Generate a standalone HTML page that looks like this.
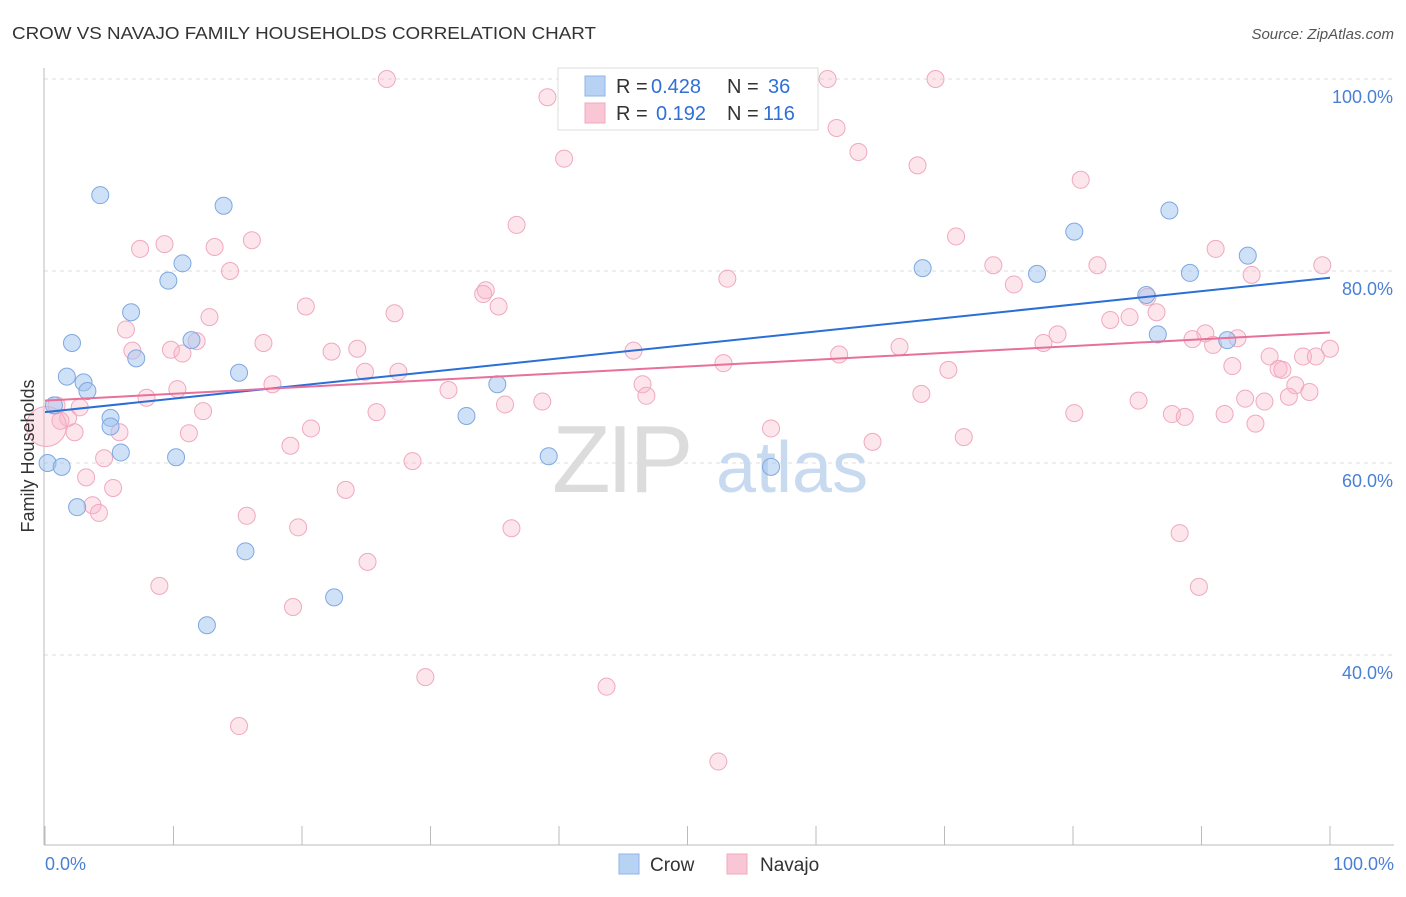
<!DOCTYPE html>
<html><head><meta charset="utf-8"><style>
body{margin:0;background:#fff;font-family:"Liberation Sans",sans-serif;}
svg text{font-family:"Liberation Sans",sans-serif;}
</style></head><body>
<svg id="chart" width="1406" height="892" xmlns="http://www.w3.org/2000/svg">
<text x="12" y="39" font-size="17.5" fill="#333" textLength="584" lengthAdjust="spacingAndGlyphs">CROW VS NAVAJO FAMILY HOUSEHOLDS CORRELATION CHART</text>
<text x="1394" y="39" font-size="15" fill="#555" text-anchor="end" font-style="italic">Source: ZipAtlas.com</text>
<g id="grid"></g>
<g>
<text x="552" y="492" font-size="96" fill="#dcdcdc" font-family="Liberation Serif" letter-spacing="-4">ZIP</text>
<text x="716" y="492" font-size="72" fill="#c8daf0">atlas</text>
</g>
<line x1="44" y1="68" x2="44" y2="845" stroke="#bbb"/>
<line x1="44" y1="845" x2="1394" y2="845" stroke="#bbb"/>
<g id="ticks"></g>
<g id="pts"></g>
<g id="lines"></g>
<text transform="translate(34,456) rotate(-90)" font-size="18" fill="#333" text-anchor="middle">Family Households</text>
<text x="45" y="870" font-size="18" fill="#4a7fd6">0.0%</text>
<text x="1394" y="870" font-size="18" fill="#4a7fd6" text-anchor="end">100.0%</text>
<g>
<rect x="558" y="68" width="260" height="62" fill="#fff" stroke="#ddd"/>
<rect x="585" y="76" width="20" height="20" fill="#b8d2f4" stroke="#8fb4e8"/>
<rect x="585" y="103" width="20" height="20" fill="#f9c6d6" stroke="#f0a8c0"/>
<text x="616" y="93" font-size="20" fill="#333">R =</text>
<text x="651" y="93" font-size="20" fill="#2f6fd6">0.428</text>
<text x="727" y="93" font-size="20" fill="#333">N =</text>
<text x="768" y="93" font-size="20" fill="#2f6fd6">36</text>
<text x="616" y="120" font-size="20" fill="#333">R =</text>
<text x="656" y="120" font-size="20" fill="#2f6fd6">0.192</text>
<text x="727" y="120" font-size="20" fill="#333">N =</text>
<text x="763" y="120" font-size="20" fill="#2f6fd6">116</text>
</g>
<g>
<rect x="619" y="854" width="20" height="20" fill="#b8d2f4" stroke="#8fb4e8"/>
<text x="650" y="871" font-size="19" fill="#333">Crow</text>
<rect x="727" y="854" width="20" height="20" fill="#f9c6d6" stroke="#f0a8c0"/>
<text x="760" y="871" font-size="19" fill="#333">Navajo</text>
</g>
</svg>
<script>
const yTicks=[40,60,80,100];
const yTickLabels=["40.0%","60.0%","80.0%","100.0%"];
const xTicks=[0,10,20,30,40,50,60,70,80,90,100];
const crowX=[0.2,0.7,1.3,1.7,2.1,2.5,3.0,3.3,4.3,5.1,5.1,5.9,6.7,7.1,9.6,10.2,10.7,11.4,12.6,13.9,15.1,15.6,22.5,32.8,35.2,39.2,56.5,68.3,77.2,80.1,85.7,86.6,87.5,89.1,92.0,93.6];
const crowY=[60.0,66.0,59.6,69.0,72.5,55.4,68.4,67.5,87.9,64.7,63.8,61.1,75.7,70.9,79.0,60.6,80.8,72.8,43.1,86.8,69.4,50.8,46.0,64.9,68.2,60.7,59.6,80.3,79.7,84.1,77.5,73.4,86.3,79.8,72.8,81.6];
const navX=[26.6,40.6,60.9,69.3,39.1,61.6,63.3,40.4,67.9,80.6,36.7,70.9,16.1,9.3,7.4,13.2,91.1,14.4,73.8,81.9,99.4,93.9,53.1,75.4,34.3,34.1,20.3,35.3,27.2,12.8,85.8,86.5,82.9,84.4,6.3,78.8,90.3,11.8,89.3,92.8,77.7,90.9,17.0,6.8,9.8,24.3,22.3,45.8,66.5,100,10.7,61.8,95.3,97.9,98.9,52.8,92.4,96.0,96.3,70.3,24.9,27.5,17.7,46.5,97.3,10.3,31.4,98.4,7.9,46.8,68.2,38.7,85.1,93.4,94.9,96.8,35.8,0.9,2.7,12.3,25.8,80.1,87.7,88.7,91.8,1.8,1.2,94.2,56.5,20.7,5.8,2.3,11.2,71.5,64.4,19.1,4.6,28.6,3.2,5.3,23.4,3.7,4.2,15.7,19.7,36.3,88.3,25.1,8.9,89.8,19.3,29.6,43.7,15.1,52.4,0.1];
const navY=[100,100,100,100,98.1,94.9,92.4,91.7,91.0,89.5,84.8,83.6,83.2,82.8,82.3,82.5,82.3,80.0,80.6,80.6,80.6,79.6,79.2,78.6,78.0,77.6,76.3,76.3,75.6,75.2,77.3,75.7,74.9,75.2,73.9,73.4,73.5,72.7,72.9,73.0,72.5,72.3,72.5,71.7,71.8,71.9,71.6,71.7,72.1,71.9,71.4,71.3,71.1,71.1,71.1,70.4,70.1,69.8,69.7,69.7,69.5,69.5,68.2,68.2,68.1,67.7,67.6,67.4,66.8,67.0,67.2,66.4,66.5,66.7,66.4,66.9,66.1,66.0,65.8,65.4,65.3,65.2,65.1,64.8,65.1,64.7,64.4,64.1,63.6,63.6,63.2,63.2,63.1,62.7,62.2,61.8,60.5,60.2,58.5,57.4,57.2,55.6,54.8,54.5,53.3,53.2,52.7,49.7,47.2,47.1,45.0,37.7,36.7,32.6,28.9,63.8];
const crowTrend=[65.3,79.3];
const navTrend=[66.5,73.6];
const NS="http://www.w3.org/2000/svg";
const sx=v=>45+v*12.85, sy=v=>79+(100-v)*9.6;
function mk(t,a,p){const e=document.createElementNS(NS,t);for(const k in a)e.setAttribute(k,a[k]);document.getElementById(p).appendChild(e);return e;}
yTicks.forEach((t,i)=>{
 const l=mk('line',{x1:44,x2:1394,y1:sy(t),y2:sy(t),stroke:'#ddd','stroke-dasharray':'4,4'},'grid');
 
 
 const tx=mk('text',{x:1393,y:sy(t)+24,'font-size':18,fill:'#4a7fd6','text-anchor':'end'},'grid');
 tx.textContent=yTickLabels[i];
 
 
});
xTicks.forEach(t=>{
 const l=mk('line',{x1:sx(t),x2:sx(t),y1:826,y2:845,stroke:'#bbb'},'ticks');
 
 
});
navX.forEach((x,i)=>{
 const r=i==navX.length-1?20:8.5;
 const c=mk('circle',{cx:sx(x),cy:sy(navY[i]),r:r,fill:'rgba(248,180,200,0.35)',stroke:'#f0a8c0','stroke-width':1},'pts');
 
 
});
crowX.forEach((x,i)=>{
 const c=mk('circle',{cx:sx(x),cy:sy(crowY[i]),r:8.5,fill:'rgba(160,195,240,0.5)',stroke:'#7fa8e0','stroke-width':1},'pts');
 
 
});
const l1=mk('line',{x1:sx(0),y1:sy(crowTrend[0]),x2:sx(100),y2:sy(crowTrend[1]),stroke:'#2a6fd6','stroke-width':2},'lines');


const l2=mk('line',{x1:sx(0),y1:sy(navTrend[0]),x2:sx(100),y2:sy(navTrend[1]),stroke:'#e8709a','stroke-width':2},'lines');


</script>
</body></html>
